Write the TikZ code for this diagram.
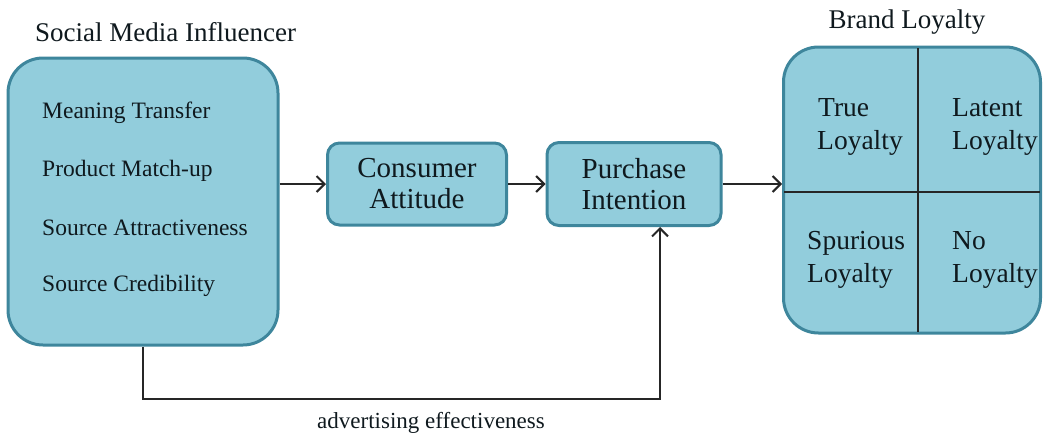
\documentclass[tikz,border=0pt]{standalone}
\usepackage{fontspec}
\setmainfont{Liberation Serif}
\usetikzlibrary{arrows.meta}
\definecolor{boxfill}{RGB}{146,205,220}
\definecolor{boxedge}{RGB}{62,134,156}
\definecolor{txt}{RGB}{15,25,30}
\tikzset{
  box/.style={draw=boxedge, line width=3pt, fill=boxfill, inner sep=0pt},
  item/.style={anchor=west, inner sep=0pt, text=txt, font=\fontsize{23.5}{26}\selectfont},
  big/.style={inner sep=0pt, text=txt, align=center, font=\fontsize{29}{32}\selectfont},
  cell/.style={inner sep=0pt, text=txt, align=left, anchor=north west, font=\fontsize{27.5}{33}\selectfont},
  ttl/.style={inner sep=0pt, text=txt, font=\fontsize{27}{30}\selectfont},
  arr/.style={line width=2pt, draw=black!85, -{Straight Barb[length=8pt,width=16pt,line width=2pt]}},
  ln/.style={line width=2pt, draw=black!85}
}
\begin{document}
\begin{tikzpicture}[x=1pt,y=-1pt]
\useasboundingbox (0,0) rectangle (1044,440);
% boxes
\node[box, rounded corners=35pt, minimum width=270pt, minimum height=287pt] (smi) at (143,201.5) {};
\node[box, rounded corners=12pt, minimum width=179pt, minimum height=82pt] (ca) at (417,184) {};
\node[box, rounded corners=12pt, minimum width=174pt, minimum height=83pt] (pi) at (634,184) {};
\node[box, rounded corners=35pt, minimum width=257pt, minimum height=286pt] (bl) at (912,190) {};
% inner divider lines of brand loyalty
\coordinate (vt) at (918,48);
\coordinate (vb) at (918,332);
\coordinate (hl) at (784,192);
\coordinate (hr) at (1040,192);
\draw[ln] (vt) -- (vb);
\draw[ln] (hl) -- (hr);
% titles
\node[ttl, anchor=west] (t1) at (35,32) {Social Media Influencer};
\node[ttl] (t2) at (907,22) {Brand Loyalty};
% list items
\node[item] (i1) at (42,113) {Meaning Transfer};
\node[item] (i2) at (42,171) {Product Match-up};
\node[item] (i3) at (42,228) {Source Attractiveness};
\node[item] (i4) at (42,286) {Source Credibility};
% box texts
\node[big] (cat) at (417,184) {Consumer\\[-1pt]Attitude};
\node[big] (pit) at (634,184) {Purchase\\[-1pt]Intention};
% loyalty cells
\node[cell] (c1) at (817,98) {\hspace*{1pt}True\\Loyalty};
\node[cell] (c2) at (952,98) {Latent\\Loyalty};
\node[cell] (c3) at (807,231) {Spurious\\Loyalty};
\node[cell] (c4) at (952,231) {No\\Loyalty};
% connectors
\draw[arr] (smi.east |- ca.west) -- (ca.west);
\draw[arr] (ca.east) -- (pi.west);
\draw[arr] (pi.east) -- (bl.west |- pi.east);
\coordinate (turn) at (660,399);
\draw[arr] (smi.south) |- (turn) -- (turn |- pi.south);
\node[ttl, font=\fontsize{23}{26}\selectfont] (adv) at (431,423) {advertising effectiveness};
\end{tikzpicture}
\end{document}
